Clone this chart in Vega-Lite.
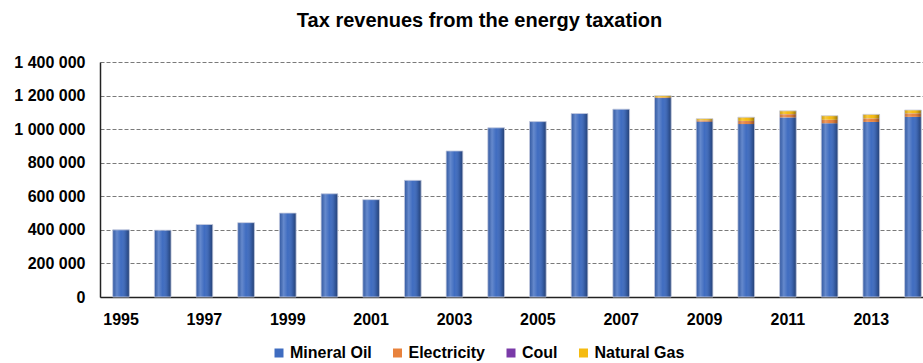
{
  "$schema": "https://vega.github.io/schema/vega-lite/v6.json",
  "width": 823,
  "height": 235,
  "autosize": {"type": "none"},
  "padding": {"left": 100, "top": 62, "right": 0, "bottom": 66},
  "title": {
    "text": "Tax revenues from the energy taxation",
    "font": "Liberation Sans",
    "fontSize": 20,
    "fontWeight": "bold",
    "color": "#000000",
    "anchor": "middle",
    "dx": -32,
    "offset": 23
  },
  "data": {
    "values": [
      {"year": 1995, "source": "Mineral Oil", "revenue": 400000},
      {"year": 1996, "source": "Mineral Oil", "revenue": 398000},
      {"year": 1997, "source": "Mineral Oil", "revenue": 432000},
      {"year": 1998, "source": "Mineral Oil", "revenue": 443000},
      {"year": 1999, "source": "Mineral Oil", "revenue": 500000},
      {"year": 2000, "source": "Mineral Oil", "revenue": 615000},
      {"year": 2001, "source": "Mineral Oil", "revenue": 580000},
      {"year": 2002, "source": "Mineral Oil", "revenue": 695000},
      {"year": 2003, "source": "Mineral Oil", "revenue": 870000},
      {"year": 2004, "source": "Mineral Oil", "revenue": 1008000},
      {"year": 2005, "source": "Mineral Oil", "revenue": 1045000},
      {"year": 2006, "source": "Mineral Oil", "revenue": 1093000},
      {"year": 2007, "source": "Mineral Oil", "revenue": 1119000},
      {"year": 2008, "source": "Mineral Oil", "revenue": 1185000},
      {"year": 2009, "source": "Mineral Oil", "revenue": 1045000},
      {"year": 2010, "source": "Mineral Oil", "revenue": 1030000},
      {"year": 2011, "source": "Mineral Oil", "revenue": 1070000},
      {"year": 2012, "source": "Mineral Oil", "revenue": 1035000},
      {"year": 2013, "source": "Mineral Oil", "revenue": 1043000},
      {"year": 2014, "source": "Mineral Oil", "revenue": 1073000},
      {"year": 2008, "source": "Electricity", "revenue": 3000},
      {"year": 2009, "source": "Electricity", "revenue": 6000},
      {"year": 2010, "source": "Electricity", "revenue": 18000},
      {"year": 2011, "source": "Electricity", "revenue": 18000},
      {"year": 2012, "source": "Electricity", "revenue": 20000},
      {"year": 2013, "source": "Electricity", "revenue": 20000},
      {"year": 2014, "source": "Electricity", "revenue": 20000},
      {"year": 2008, "source": "Coul", "revenue": 1000},
      {"year": 2009, "source": "Coul", "revenue": 1000},
      {"year": 2010, "source": "Coul", "revenue": 1000},
      {"year": 2011, "source": "Coul", "revenue": 1000},
      {"year": 2012, "source": "Coul", "revenue": 1000},
      {"year": 2013, "source": "Coul", "revenue": 1000},
      {"year": 2014, "source": "Coul", "revenue": 1000},
      {"year": 2008, "source": "Natural Gas", "revenue": 10000},
      {"year": 2009, "source": "Natural Gas", "revenue": 10000},
      {"year": 2010, "source": "Natural Gas", "revenue": 22000},
      {"year": 2011, "source": "Natural Gas", "revenue": 20000},
      {"year": 2012, "source": "Natural Gas", "revenue": 24000},
      {"year": 2013, "source": "Natural Gas", "revenue": 24000},
      {"year": 2014, "source": "Natural Gas", "revenue": 20000}
    ]
  },
  "layer": [
    {
      "transform": [
        {"calculate": "indexof(['Mineral Oil', 'Electricity', 'Coul', 'Natural Gas'], datum.source)", "as": "stackOrder"}
      ],
      "mark": {"type": "bar"},
      "encoding": {
        "x": {
          "field": "year",
          "type": "ordinal",
          "scale": {"range": [0, 834], "paddingInner": 0.6, "paddingOuter": 0.305},
          "axis": {
            "title": null,
            "values": [1995, 1997, 1999, 2001, 2003, 2005, 2007, 2009, 2011, 2013],
            "labelAngle": 0,
            "ticks": false,
            "tickSize": 0,
            "labelPadding": 14,
            "grid": false,
            "domainColor": "#222222",
            "domainWidth": 1.5
          }
        },
        "y": {
          "field": "revenue",
          "type": "quantitative",
          "stack": "zero",
          "scale": {"domain": [0, 1400000], "nice": false},
          "axis": {
            "title": null,
            "values": [0, 200000, 400000, 600000, 800000, 1000000, 1200000, 1400000],
            "labelExpr": "replace(format(datum.value, ','), regexp(',', 'g'), ' ')",
            "labelOverlap": false,
            "ticks": false,
            "tickSize": 0,
            "labelPadding": 15,
            "grid": true,
            "gridColor": "#7a7a7a",
            "gridDash": [4, 2],
            "gridWidth": 1,
            "domainColor": "#222222",
            "domainWidth": 1.5
          }
        },
        "order": {"field": "stackOrder", "type": "quantitative", "sort": "ascending"},
        "color": {
          "field": "source",
          "type": "nominal",
          "sort": ["Mineral Oil", "Electricity", "Coul", "Natural Gas"],
          "scale": {
            "domain": ["Mineral Oil", "Electricity", "Coul", "Natural Gas"],
            "range": ["#3f6cc0", "#e8823c", "#7a3aa8", "#f5bb10"]
          },
          "legend": {
            "title": null,
            "orient": "none",
            "legendX": 171,
            "legendY": 283,
            "direction": "horizontal",
            "columns": 4,
            "symbolType": "square",
            "symbolSize": 81,
            "symbolStrokeWidth": 0,
            "symbolOpacity": 1,
            "labelFont": "Liberation Sans",
            "labelFontSize": 16,
            "labelFontWeight": "bold",
            "labelColor": "#000000",
            "labelOffset": 3,
            "labelLimit": 0,
            "columnPadding": 17.5,
            "padding": 0
          }
        }
      }
    },
    {
      "mark": {
        "type": "bar",
        "stroke": "#c8cde0",
        "strokeWidth": 0.8,
        "fill": {
          "gradient": "linear",
          "x1": 0, "y1": 0, "x2": 1, "y2": 0,
          "stops": [
            {"offset": 0, "color": "rgba(0,0,0,0.15)"},
            {"offset": 0.25, "color": "rgba(255,255,255,0.2)"},
            {"offset": 0.5, "color": "rgba(255,255,255,0)"},
            {"offset": 0.8, "color": "rgba(0,0,0,0.15)"},
            {"offset": 1, "color": "rgba(0,0,0,0.4)"}
          ]
        }
      },
      "encoding": {
        "x": {
          "field": "year",
          "type": "ordinal",
          "axis": {
            "title": null,
            "values": [1995, 1997, 1999, 2001, 2003, 2005, 2007, 2009, 2011, 2013],
            "labelAngle": 0,
            "ticks": false,
            "tickSize": 0,
            "labelPadding": 14,
            "grid": false,
            "domainColor": "#222222",
            "domainWidth": 1.5
          }
        },
        "y": {
          "aggregate": "sum",
          "field": "revenue",
          "type": "quantitative",
          "axis": {
            "title": null,
            "values": [0, 200000, 400000, 600000, 800000, 1000000, 1200000, 1400000],
            "labelExpr": "replace(format(datum.value, ','), regexp(',', 'g'), ' ')",
            "labelOverlap": false,
            "ticks": false,
            "tickSize": 0,
            "labelPadding": 15,
            "grid": true,
            "gridColor": "#7a7a7a",
            "gridDash": [4, 2],
            "gridWidth": 1,
            "domainColor": "#222222",
            "domainWidth": 1.5
          }
        }
      }
    }
  ],
  "config": {
    "view": {"stroke": null},
    "axis": {
      "labelFont": "Liberation Sans",
      "labelFontSize": 16,
      "labelFontWeight": "bold",
      "labelColor": "#000000"
    }
  }
}
